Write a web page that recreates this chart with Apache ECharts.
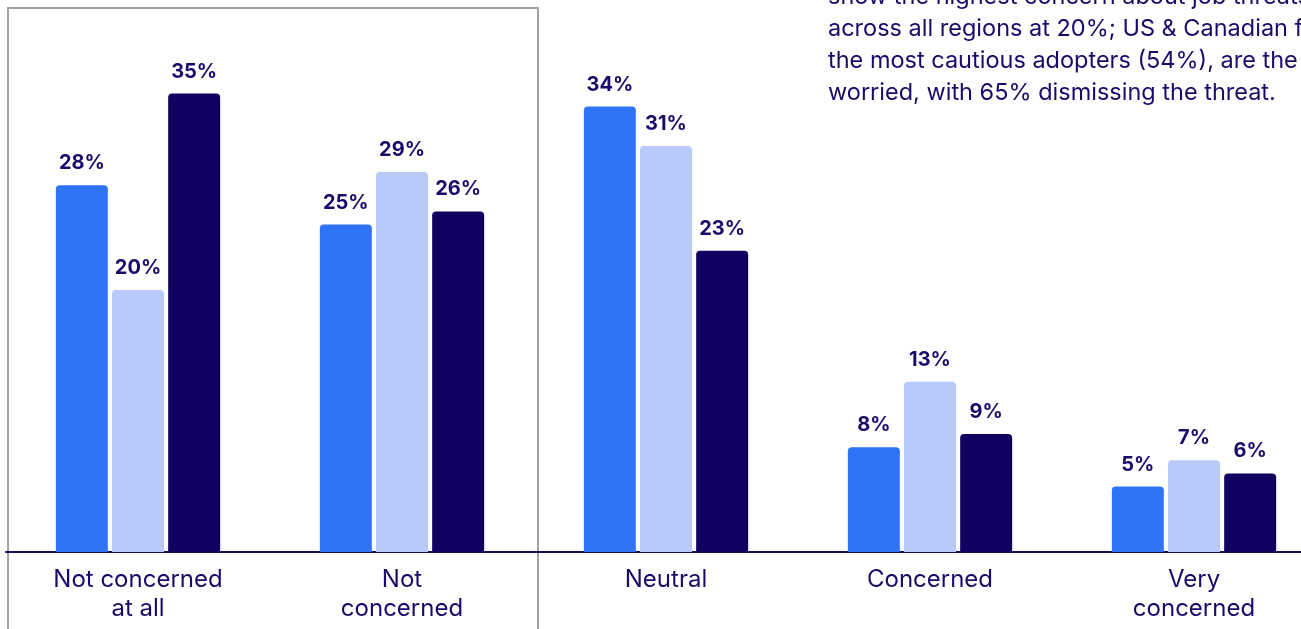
<!DOCTYPE html>
<html>
<head>
<meta charset="utf-8">
<script src="https://cdn.jsdelivr.net/npm/echarts@6/dist/echarts.min.js"></script>
<style>
html,body{margin:0;padding:0;background:#fff;}
#chart{width:1301px;height:629px;}
</style>
</head>
<body>
<div id="chart"></div>
<script>
const categories = ['Not concerned\nat all', 'Not\nconcerned', 'Neutral', 'Concerned', 'Very\nconcerned'];
const seriesNames = ['Region A', 'Region B', 'Region C'];
const valuesA = [28, 25, 34, 8, 5];
const valuesB = [20, 29, 31, 13, 7];
const valuesC = [35, 26, 23, 9, 6];
const noteLines = [
  'show the highest concern about job threats',
  'across all regions at 20%; US & Canadian firms,',
  'the most cautious adopters (54%), are the least',
  'worried, with 65% dismissing the threat.'
];

const colors = ['#2f73f6', '#b9c9fa', '#120060'];
const textColor = '#1a0b6b';
const FONT = 'Inter, "Noto Sans", sans-serif';

const chart = echarts.init(document.getElementById('chart'));

function mkSeries(name, data, color) {
  return {
    name: name,
    type: 'bar',
    data: data,
    barWidth: 52,
    barGap: '8%',
    itemStyle: { color: color, borderRadius: [4, 4, 0, 0] },
    label: {
      show: true,
      position: 'top',
      distance: 12,
      formatter: '{c}%',
      color: textColor,
      fontFamily: FONT,
      fontWeight: 'bold',
      fontSize: 20
    },
    silent: true
  };
}

chart.setOption({
  animation: false,
  backgroundColor: '#ffffff',
  grid: { left: 6, width: 1320, top: 28, bottom: 77, containLabel: false, outerBoundsMode: 'none' },
  xAxis: {
    type: 'category',
    data: categories,
    boundaryGap: true,
    axisLine: { show: true, lineStyle: { color: '#1a0b5e', width: 2 } },
    axisTick: { show: false },
    axisLabel: {
      color: textColor,
      fontFamily: FONT,
      fontSize: 24,
      lineHeight: 29,
      margin: 13,
      interval: 0
    }
  },
  yAxis: {
    type: 'value',
    min: 0,
    max: 40,
    show: false,
    splitLine: { show: false }
  },
  graphic: [
    {
      type: 'rect',
      shape: { x: 8, y: 8, width: 530, height: 700 },
      style: { fill: 'none', stroke: '#a3a3a3', lineWidth: 2 },
      silent: true,
      z: -1
    },
    {
      type: 'text',
      x: 828,
      y: -19,
      style: {
        text: noteLines.join('\n'),
        fill: textColor,
        font: '23.5px ' + FONT,
        lineHeight: 32,
        textAlign: 'left',
        textVerticalAlign: 'top'
      },
      silent: true
    }
  ],
  series: [
    mkSeries(seriesNames[0], valuesA, colors[0]),
    mkSeries(seriesNames[1], valuesB, colors[1]),
    mkSeries(seriesNames[2], valuesC, colors[2])
  ]
});
</script>
</body>
</html>
